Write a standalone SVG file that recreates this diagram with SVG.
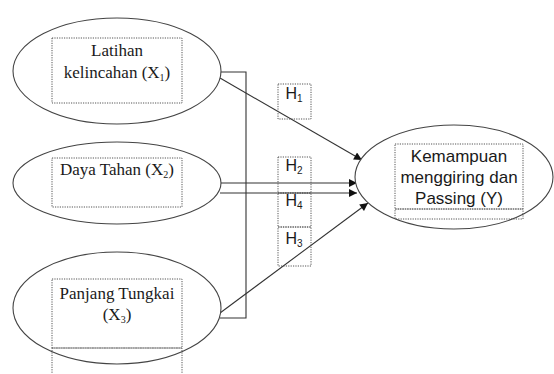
<svg xmlns="http://www.w3.org/2000/svg" width="554" height="374" viewBox="0 0 554 374">
<defs>
<style>
.ell{fill:#fff;stroke:#444;stroke-width:1.1}
.dot{fill:none;stroke:#555;stroke-width:1;stroke-dasharray:1.2,1.2}
.ln{fill:none;stroke:#333;stroke-width:1.1}
.serif{font-family:"Liberation Serif","Times New Roman",serif;font-size:17px;fill:#1a1a1a;text-anchor:middle}
.sans{font-family:"Liberation Sans",Arial,sans-serif;font-size:17px;fill:#1a1a1a;text-anchor:middle}
.h{font-family:"Liberation Sans",Arial,sans-serif;font-size:16px;fill:#1a1a1a;text-anchor:middle}
.sub{font-size:10px}
</style>
<marker id="arr" viewBox="0 0 10 10" refX="10" refY="5" markerWidth="10" markerHeight="8" markerUnits="userSpaceOnUse" orient="auto">
<path d="M0,0 L10,5 L0,10 z" fill="#111"/>
</marker>
</defs>
<rect width="554" height="374" fill="#fff"/>
<g id="connectors">
<polyline class="ln" points="220,72 246,72 246,318 220,318"/>
<line class="ln" x1="220" y1="78" x2="362" y2="160" marker-end="url(#arr)"/>
<line class="ln" x1="220" y1="183" x2="357" y2="183" marker-end="url(#arr)"/>
<line class="ln" x1="220" y1="193" x2="357" y2="193" marker-end="url(#arr)"/>
<line class="ln" x1="220" y1="313" x2="368" y2="203" marker-end="url(#arr)"/>
</g>
<g id="x1">
<ellipse class="ell" cx="117" cy="71" rx="104" ry="53"/>
<rect class="dot" x="52" y="38" width="130" height="65"/>
<text class="serif" x="117" y="56">Latihan</text>
<text class="serif" x="117" y="78">kelincahan (X<tspan class="sub" dy="3">1</tspan><tspan dy="-3">)</tspan></text>
</g>
<g id="x2">
<ellipse class="ell" cx="117" cy="183" rx="104" ry="41"/>
<rect class="dot" x="52" y="158" width="130" height="49"/>
<text class="serif" x="117" y="175">Daya Tahan (X<tspan class="sub" dy="3">2</tspan><tspan dy="-3">)</tspan></text>
</g>
<g id="x3">
<ellipse class="ell" cx="117" cy="308" rx="104" ry="56"/>
<rect class="dot" x="52" y="279" width="130" height="69"/>
<rect class="dot" x="52" y="348" width="130" height="30"/>
<text class="serif" x="117" y="299">Panjang Tungkai</text>
<text class="serif" x="117" y="320">(X<tspan class="sub" dy="3">3</tspan><tspan dy="-3">)</tspan></text>
</g>
<g id="y">
<ellipse class="ell" cx="454" cy="177" rx="99" ry="52"/>
<rect class="dot" x="395" y="144" width="128" height="65"/>
<rect class="dot" x="395" y="209" width="128" height="10"/>
<text class="sans" x="459" y="162">Kemampuan</text>
<text class="sans" x="459" y="183">menggiring dan</text>
<text class="sans" x="459" y="204">Passing (Y)</text>
</g>
<g id="h1">
<rect class="dot" x="278" y="84" width="33" height="35"/>
<text class="h" x="294" y="99">H<tspan class="sub" dy="3">1</tspan></text>
</g>
<g id="h2">
<rect class="dot" x="278" y="157" width="33" height="36"/>
<text class="h" x="294" y="171">H<tspan class="sub" dy="3">2</tspan></text>
</g>
<g id="h4">
<rect class="dot" x="278" y="193" width="33" height="34"/>
<text class="h" x="294" y="206">H<tspan class="sub" dy="3">4</tspan></text>
</g>
<g id="h3">
<rect class="dot" x="278" y="227" width="33" height="39"/>
<text class="h" x="294" y="244">H<tspan class="sub" dy="3">3</tspan></text>
</g>
</svg>
